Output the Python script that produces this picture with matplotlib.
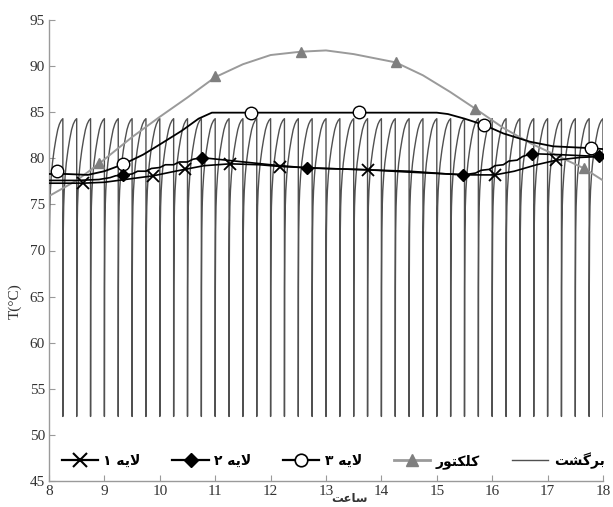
import numpy as np
import matplotlib
matplotlib.use("Agg")
import matplotlib.pyplot as plt
from matplotlib.lines import Line2D

# ---------------- data ----------------
# Return flow (sawtooth): one tooth every 15 minutes
ret_period = 0.25
ret_start, ret_end = 8.0, 18.0
ret_tooth_frac = [0.0, 0.01, 0.03, 0.06, 0.10, 0.17, 0.25, 0.37, 0.50, 0.63, 0.75, 0.88, 1.0]
ret_tooth_temp = [52.0, 66.0, 72.0, 74.8, 76.5, 78.2, 79.5, 80.9, 82.1, 83.1, 83.7, 84.1, 84.3]
ret_low = 52.0

# Collector
col_x = [8.0, 8.5, 8.91, 9.5, 10.0, 10.5, 11.0, 11.5, 12.0, 12.54, 13.0, 13.5,
         14.26, 14.75, 15.24, 15.69, 16.2, 16.7, 17.2, 17.66, 18.0]
col_y = [75.9, 77.6, 79.45, 82.3, 84.5, 86.6, 88.8, 90.2, 91.2, 91.56, 91.7, 91.3,
         90.4, 89.0, 87.2, 85.4, 83.3, 81.6, 80.2, 78.9, 77.6]
col_mx = [8.91, 11.0, 12.54, 14.26, 15.69, 17.66]
col_my = [79.45, 88.9, 91.56, 90.4, 85.4, 78.9]

# Layer 3
l3_x = [8.0, 8.3, 8.7, 9.0, 9.34, 9.7, 10.0, 10.4, 10.7, 10.94, 12.0, 13.0, 14.0,
        15.0, 15.2, 15.5, 15.86, 16.2, 16.68, 17.1, 17.78, 18.0]
l3_y = [78.3, 78.3, 78.2, 78.6, 79.35, 80.4, 81.5, 83.0, 84.3, 84.95, 84.95, 84.95, 84.95,
        84.95, 84.8, 84.3, 83.6, 82.7, 81.8, 81.3, 81.1, 81.0]
l3_mx = [8.14, 9.34, 11.64, 13.6, 15.86, 17.78]
l3_my = [78.65, 79.35, 84.9, 85.0, 83.6, 81.1]

# Layer 2 (wavy)
l2_x = [8.0, 8.5, 8.9, 9.1, 9.2, 9.33, 9.5, 9.6, 9.75, 9.85, 10.0, 10.1, 10.25, 10.35,
        10.5, 10.6, 10.76, 11.2, 12.0, 12.66, 13.5, 14.5, 15.2, 15.48, 15.7, 15.8,
        15.95, 16.05, 16.2, 16.3, 16.45, 16.55, 16.71, 17.2, 17.92, 18.0]
l2_y = [77.6, 77.6, 77.7, 77.9, 78.1, 78.2, 78.3, 78.6, 78.6, 78.9, 79.0, 79.3, 79.3,
        79.6, 79.6, 79.9, 80.07, 79.8, 79.3, 78.95, 78.8, 78.6, 78.3, 78.2, 78.4, 78.7,
        78.8, 79.2, 79.3, 79.7, 79.8, 80.2, 80.5, 80.4, 80.2, 80.2]
l2_mx = [9.33, 10.76, 12.66, 15.48, 16.71, 17.92]
l2_my = [78.2, 80.07, 78.95, 78.2, 80.5, 80.2]

# Layer 1
l1_x = [8.0, 8.61, 9.0, 9.5, 9.88, 10.2, 10.45, 10.8, 11.27, 11.8, 12.2, 13.0, 13.76,
        14.5, 15.2, 15.6, 16.05, 16.4, 16.8, 17.16, 17.6, 18.0]
l1_y = [77.3, 77.3, 77.4, 77.8, 78.1, 78.5, 78.8, 79.2, 79.4, 79.3, 79.1, 78.9, 78.75,
        78.5, 78.3, 78.2, 78.2, 78.6, 79.3, 79.8, 80.1, 80.2]
l1_mx = [8.61, 9.88, 10.45, 11.27, 12.17, 13.76, 16.05, 17.16]
l1_my = [77.3, 78.1, 78.8, 79.4, 79.05, 78.7, 78.2, 79.8]

x_ticks = list(range(8, 19))
y_ticks = list(range(45, 96, 5))

# Persian labels (pre-shaped presentation forms, visual order)
lbl_l1 = "\u06F1 \uFEEA\uFEF3\uFEFB"        # لایه ۱
lbl_l2 = "\u06F2 \uFEEA\uFEF3\uFEFB"        # لایه ۲
lbl_l3 = "\u06F3 \uFEEA\uFEF3\uFEFB"        # لایه ۳
lbl_col = "\uFEAD\uFEEE\uFE98\uFB91\uFEE0\uFB90"  # کلکتور
lbl_ret = "\uFE96\uFEB8\uFB94\uFEAE\uFE91"  # برگشت
lbl_x = "\uFE96\uFECB\uFE8E\uFEB3"          # ساعت
lbl_y = "T(°C)"

# ---------------- build sawtooth ----------------
rx, ry = [], []
for s in np.arange(ret_start, ret_end - 1e-9, ret_period):
    for f, t in zip(ret_tooth_frac, ret_tooth_temp):
        rx.append(s + f * ret_period)
        ry.append(t)
    rx.append(s + ret_period)
    ry.append(ret_low)

# ---------------- figure ----------------
plt.rcParams['font.family'] = ['Liberation Serif', 'DejaVu Sans']
fig = plt.figure(figsize=(6.13, 5.07), dpi=100)
ax = fig.add_axes([49/613, 26/507, 554/613, 461/507])

ret_c = '#505050'
col_c = '#7f7f7f'
ax.plot(rx, ry, color=ret_c, lw=1.0, zorder=2)
ax.plot(col_x, col_y, color='#9a9a9a', lw=1.4, zorder=3)
ax.plot(col_mx, col_my, ls='none', marker='^', ms=7, color=col_c, zorder=3)
ax.plot(l3_x, l3_y, color='black', lw=1.3, zorder=4)
ax.plot(l3_mx, l3_my, ls='none', marker='o', ms=9, mfc='white', mec='black', mew=1.0, zorder=5)
ax.plot(l2_x, l2_y, color='black', lw=1.2, zorder=4)
ax.plot(l2_mx, l2_my, ls='none', marker='D', ms=6, color='black', zorder=5)
ax.plot(l1_x, l1_y, color='black', lw=1.2, zorder=4)
ax.plot(l1_mx, l1_my, ls='none', marker='x', ms=9, mew=1.3, color='black', zorder=5)

ax.set_xlim(8, 18)
ax.set_ylim(45, 95)
ax.set_xticks(x_ticks)
ax.set_yticks(y_ticks)
for sp in ['top', 'right']:
    ax.spines[sp].set_visible(False)
for sp in ['left', 'bottom']:
    ax.spines[sp].set_color('#9a9a9a')
    ax.spines[sp].set_linewidth(1.0)
ax.tick_params(direction='in', length=4, color='#9a9a9a', labelsize=11,
               labelcolor='#333333', pad=3)
ax.set_ylabel(lbl_y, fontsize=11, color='#333333')
ax.yaxis.set_label_coords(-0.05, 0.39)
fig.text(350/613, 1 - 499/507, lbl_x, family=['DejaVu Sans'], fontsize=8.5,
         fontweight='bold', color='#333333', ha='center', va='center')

handles = [
    Line2D([], [], color='black', lw=1.6, marker='x', ms=10, mew=1.5),
    Line2D([], [], color='black', lw=1.6, marker='D', ms=7),
    Line2D([], [], color='black', lw=1.6, marker='o', ms=9, mfc='white', mew=1.2),
    Line2D([], [], color='#9a9a9a', lw=2.0, marker='^', ms=8, mfc=col_c, mec=col_c),
    Line2D([], [], color=ret_c, lw=1.0),
]
labels = [lbl_l1, lbl_l2, lbl_l3, lbl_col, lbl_ret]
leg = ax.legend(handles, labels, loc='center left', bbox_to_anchor=(0.0, 0.044),
                ncol=5, frameon=False, handlelength=2.6, handletextpad=0.4,
                columnspacing=2.3, prop={'family': 'DejaVu Sans', 'weight': 'bold', 'size': 10})

fig.savefig('out.png', dpi=100)
